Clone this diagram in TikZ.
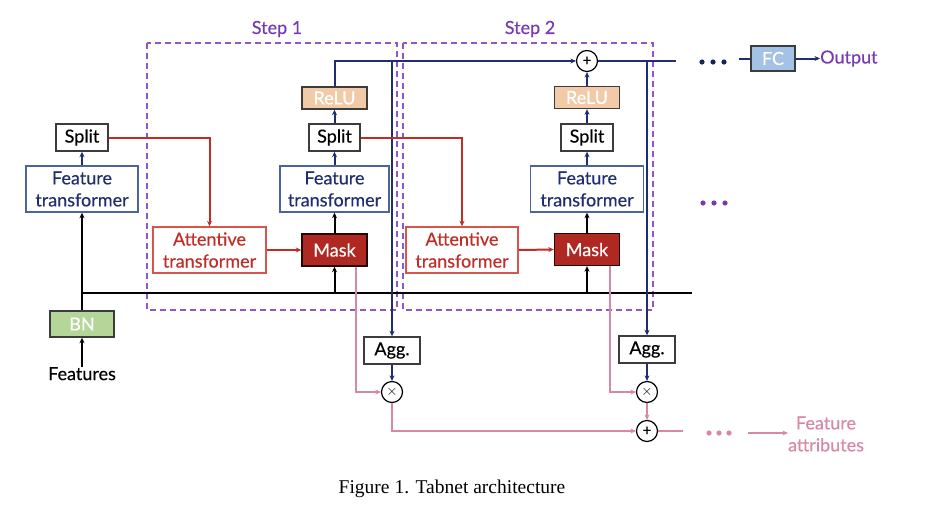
\documentclass[tikz,border=0pt]{standalone}
\usepackage{fontspec}
\setmainfont{Lato}[FakeBold=0.35]
\newfontfamily\capfont{Liberation Serif}
\usetikzlibrary{arrows.meta,calc}
\definecolor{navy}{RGB}{32,45,112}
\definecolor{navyb}{RGB}{78,98,160}
\definecolor{redt}{RGB}{192,44,38}
\definecolor{redb}{RGB}{214,86,76}
\definecolor{maskf}{RGB}{176,40,34}
\definecolor{pinkc}{RGB}{214,136,166}
\definecolor{purd}{RGB}{145,85,205}
\definecolor{purt}{RGB}{118,58,178}
\definecolor{reluf}{RGB}{242,202,168}
\definecolor{bnf}{RGB}{180,214,152}
\definecolor{fcf}{RGB}{164,194,230}
\definecolor{edgeg}{RGB}{60,60,60}
\tikzset{
  x=1pt,y=-1pt,
  every node/.style={font=\fontsize{18}{20}\selectfont, inner sep=0pt, align=center},
  tip/.style={-{Stealth[length=5.5pt,width=5pt]}},
  wbox/.style={draw=edgeg, line width=1.4pt, fill=white, text=black},
  ftbox/.style={draw=navyb, line width=1.4pt, fill=white, text=navy, minimum height=46pt},
  atbox/.style={draw=redb, line width=1.4pt, fill=white, text=redt, minimum height=46pt},
  mkbox/.style={draw=black!80!maskf, line width=1.4pt, fill=maskf, text=white, minimum width=65pt, minimum height=32pt},
  rlbox/.style={draw=edgeg, line width=1.4pt, fill=reluf, text=white, minimum width=65pt, minimum height=22pt},
  opc/.style={circle, draw=black, line width=1.2pt, fill=white, minimum size=21pt, font=\fontsize{15}{15}\selectfont},
  bl/.style={draw=black, line width=2pt},
  nv/.style={draw=navy, line width=2pt},
  rd/.style={draw=redt, line width=2pt},
  pk/.style={draw=pinkc, line width=2pt},
  stepbox/.style={draw=purd, line width=1.6pt, dash pattern=on 6pt off 4pt},
}
\begin{document}
\begin{tikzpicture}
\useasboundingbox (0,0) rectangle (931,522);

% step boxes
\draw[stepbox] (147,43) rectangle (397,310);
\draw[stepbox] (403,43) rectangle (653,310);
\node[text=purt] (s1) at (277,29) {Step 1};
\node[text=purt] (s2) at (530,29) {Step 2};

% left column
\node[wbox, minimum width=52pt, minimum height=27pt] (split0) at (82,137.5) {Split};
\node[ftbox, minimum width=112pt] (ft0) at (82,189) {Feature\\[2pt]transformer};
\node[draw=edgeg, line width=1.4pt, fill=bnf, text=white, minimum width=64pt, minimum height=26pt] (bn) at (82,324) {BN};
\node[text=black, anchor=north] (feat) at (82,367) {Features};

% step 1
\node[atbox, minimum width=113pt] (att1) at (209.5,250) {Attentive\\[2pt]transformer};
\node[mkbox] (mask1) at (334.5,250) {Mask};
\node[ftbox, minimum width=109pt] (ft1) at (334.5,189) {Feature\\[2pt]transformer};
\node[wbox, minimum width=51pt, minimum height=27pt] (split1) at (334.5,137.5) {Split};
\node[rlbox] (relu1) at (334.5,98) {ReLU};

% step 2
\node[atbox, minimum width=112pt] (att2) at (462,250) {Attentive\\[2pt]transformer};
\node[mkbox] (mask2) at (587,249.5) {Mask};
\node[ftbox, minimum width=113pt] (ft2) at (587,189) {Feature\\[2pt]transformer};
\node[wbox, minimum width=52pt, minimum height=27pt] (split2) at (587,137.5) {Split};
\node[rlbox] (relu2) at (587,97.5) {ReLU};
\node[opc] (plus1) at (587,61) {+};

% aggregation
\node[wbox, minimum width=56pt, minimum height=27pt] (agg1) at (392,350.5) {Agg.};
\node[opc] (mul1) at (392,392) {$\times$};
\node[wbox, minimum width=56pt, minimum height=27pt] (agg2) at (647,349.5) {Agg.};
\node[opc] (mul2) at (647,392) {$\times$};
\node[opc] (plus2) at (647,431) {+};

% output side
\node[draw=edgeg, line width=1.4pt, fill=fcf, text=white, minimum width=44pt, minimum height=25pt] (fc) at (773,58.5) {FC};
\node[text=purt, anchor=west] (out) at (820,58.5) {Output};
\node[text=pinkc] (fa) at (826,434) {Feature\\[2pt]attributes};

\coordinate (j0) at (82,293);
\coordinate (jend) at (692,293);
\coordinate (topend) at (676,61);
\coordinate (fcin) at (739,58.5);
\coordinate (pkend) at (683,431);
\coordinate (pka) at (748,433);

% black trunk
\draw[bl, tip] (feat.north) -- (bn.south);
\draw[bl, tip] (bn.north) -- (ft0.south);
\draw[bl] (j0) -- (jend);
\draw[bl, tip] (mask1.south |- j0) -- (mask1.south);
\draw[bl, tip] (mask2.south |- j0) -- (mask2.south);
\draw[bl, tip] (mask1.north) -- (ft1.south);
\draw[bl, tip] (mask2.north) -- (ft2.south);

% navy
\draw[nv, tip] (ft0.north) -- (split0.south);
\draw[nv, tip] (ft1.north) -- (split1.south);
\draw[nv, tip] (split1.north) -- (relu1.south);
\draw[nv, tip] (ft2.north) -- (split2.south);
\draw[nv, tip] (split2.north) -- (relu2.south);
\draw[nv, tip] (relu2.north) -- (plus1.south);
\draw[nv, tip] (relu1.north) |- (plus1.west);
\draw[nv] (plus1.east) -- (topend);
\draw[nv, tip] (agg1.north |- plus1) -- (agg1.north);
\draw[nv, tip] (agg2.north |- plus1) -- (agg2.north);
\draw[nv, tip] (agg1.south) -- (mul1.north);
\draw[nv, tip] (agg2.south) -- (mul2.north);
\draw[navy, line width=2pt] (fcin) -- (fc.west);
\draw[nv, tip] (fc.east) -- (out.west);
\foreach \xx in {702,713,724} \fill[navy!80!black] (\xx,62) circle (2.6pt);
\foreach \xx in {703,714,725} \fill[purt] (\xx,203) circle (2.6pt);

% red
\draw[rd, tip] (split0.east) -| (att1.north);
\draw[rd, tip] (split1.east) -| (att2.north);
\draw[rd, tip] (att1.east) -- (mask1.west);
\draw[rd, tip] (att2.east) -- (mask2.west);

% pink
\draw[pk, tip] ([xshift=21pt]mask1.south) |- (mul1.west);
\draw[pk, tip] ([xshift=23pt]mask2.south) |- (mul2.west);
\draw[pk, tip] (mul1.south) |- (plus2.west);
\draw[pk, tip] (mul2.south) -- (plus2.north);
\draw[pk] (plus2.east) -- (pkend);
\foreach \xx in {709,719,729} \fill[pinkc] (\xx,433) circle (2.6pt);
\draw[pk, tip] (pka) -- (fa.west |- pka);

% caption
\node[font=\capfont\fontsize{19.5}{21}\selectfont] (cap) at (452,489) {Figure 1. Tabnet architecture};
\end{tikzpicture}
\end{document}
